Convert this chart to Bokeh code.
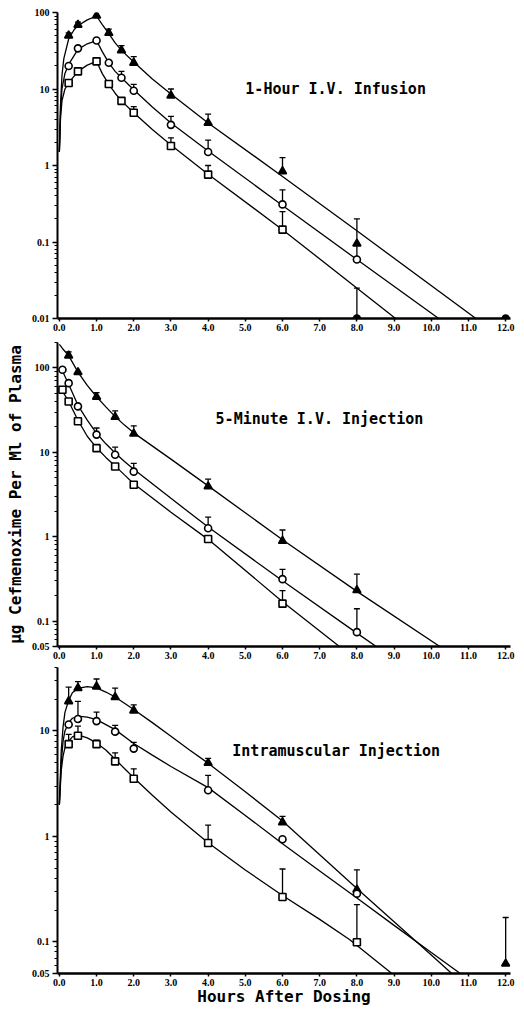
from bokeh.plotting import figure
from bokeh.layouts import column
from bokeh.models import (FixedTicker, CustomJSTickFormatter, Label, Whisker,
                          TeeHead, ColumnDataSource, Range1d)
from bokeh.embed import file_html
from bokeh.resources import INLINE

# ---------------- shared axis data ----------------
x_ticks = [0, 1, 2, 3, 4, 5, 6, 7, 8, 9, 10, 11, 12]
x_label = "Hours After Dosing"
y_label = "\u03bcg Cefmenoxime Per Ml of Plasma"

# ---------------- Panel 1: 1-Hour I.V. Infusion ----------------
inf_title = "1-Hour I.V. Infusion"
inf_yticks = [0.01, 0.1, 1, 10, 100]
inf_t = [0.25, 0.5, 1.0, 1.33, 1.67, 2.0, 3.0, 4.0, 6.0, 8.0]
inf_tri = [50, 69, 91, 54, 32, 22, 8.2, 3.6, 0.84, 0.095]
inf_cir = [20, 34, 43, 22, 14, 9.5, 3.4, 1.5, 0.31, 0.059]
inf_sq_t = [0.25, 0.5, 1.0, 1.33, 1.67, 2.0, 3.0, 4.0, 6.0]
inf_sq = [12, 17, 23, 11.6, 7.0, 4.9, 1.8, 0.76, 0.145]
inf_blq_t = [8.0, 12.0]
inf_blq = [0.01, 0.01]
inf_tri_sd_t = [0.25, 0.5, 1.33, 1.67, 2.0, 3.0, 4.0, 6.0]
inf_tri_sd = [54, 75, 60.5, 37, 26.5, 10, 4.7, 1.27]
inf_cir_sd_t = [1.67, 2.0, 3.0, 4.0, 6.0, 8.0]
inf_cir_sd = [17, 11.5, 4.4, 2.15, 0.48, 0.2]
inf_sq_sd_t = [2.0, 3.0, 4.0, 6.0]
inf_sq_sd = [5.9, 2.3, 1.0, 0.25]
inf_blq_sd_t = [8.0]
inf_blq_sd = [0.025]
inf_tri_fit_t = [0.0, 0.03, 0.07, 0.12, 0.25, 0.4, 0.5, 0.75, 1.0, 1.15, 1.33, 1.5, 1.67, 2.0, 2.5, 3.0, 4.0, 6.0, 8.0, 11.2]
inf_tri_fit = [1.5, 6, 15, 25, 45, 60, 67, 80, 90, 70, 53, 40, 32, 22.5, 13.5, 8.6, 3.6, 0.72, 0.14, 0.01]
inf_cir_fit_t = [0.0, 0.03, 0.07, 0.15, 0.25, 0.5, 0.75, 1.0, 1.15, 1.33, 1.5, 1.67, 2.0, 2.5, 3.0, 4.0, 6.0, 8.0, 10.2]
inf_cir_fit = [1.5, 5, 10, 16, 21, 33, 39, 43, 31, 22, 17, 14, 9.8, 5.8, 3.6, 1.55, 0.3, 0.059, 0.01]
inf_sq_fit_t = [0.0, 0.03, 0.07, 0.15, 0.25, 0.5, 0.75, 1.0, 1.15, 1.33, 1.5, 1.67, 2.0, 2.5, 3.0, 4.0, 6.0, 9.04]
inf_sq_fit = [1.5, 4, 7, 10, 12, 17, 20.5, 23, 16, 11.5, 8.8, 7.0, 4.9, 2.95, 1.85, 0.77, 0.145, 0.01]

# ---------------- Panel 2: 5-Minute I.V. Injection ----------------
inj_title = "5-Minute I.V. Injection"
inj_yticks = [0.05, 0.1, 1, 10, 100]
inj_t = [0.083, 0.25, 0.5, 1.0, 1.5, 2.0, 4.0, 6.0, 8.0]
inj_tri_t = [0.25, 0.5, 1.0, 1.5, 2.0, 4.0, 6.0, 8.0]
inj_tri = [140, 89, 45.3, 26.2, 16.6, 3.94, 0.89, 0.232]
inj_cir = [95, 66, 35, 16.2, 9.35, 5.9, 1.26, 0.314, 0.074]
inj_sq_t = [0.083, 0.25, 0.5, 1.0, 1.5, 2.0, 4.0, 6.0]
inj_sq = [55, 40, 23.3, 11.2, 6.8, 4.13, 0.94, 0.161]
inj_tri_sd_t = [0.25, 1.0, 1.5, 2.0, 4.0, 6.0, 8.0]
inj_tri_sd = [155, 51, 31, 20.6, 4.8, 1.2, 0.36]
inj_cir_sd_t = [1.0, 1.5, 2.0, 4.0, 6.0, 8.0]
inj_cir_sd = [19.4, 11.5, 7.4, 1.71, 0.41, 0.14]
inj_sq_sd_t = [6.0]
inj_sq_sd = [0.23]
inj_tri_fit_t = [0.0, 0.083, 0.25, 0.5, 0.75, 1.0, 1.25, 1.5, 1.75, 2.0, 3.0, 4.0, 6.0, 8.0, 10.23]
inj_tri_fit = [190, 170, 140, 89, 62, 45.5, 34.5, 26.5, 21, 17.0, 8.3, 4.0, 0.92, 0.225, 0.05]
inj_cir_fit_t = [0.0, 0.083, 0.25, 0.5, 0.75, 1.0, 1.25, 1.5, 1.75, 2.0, 3.0, 4.0, 6.0, 8.0, 8.52]
inj_cir_fit = [100, 92, 64, 36, 24, 16.8, 12.6, 9.8, 7.8, 6.3, 2.85, 1.3, 0.3, 0.072, 0.05]
inj_sq_fit_t = [0.0, 0.083, 0.25, 0.5, 0.75, 1.0, 1.25, 1.5, 1.75, 2.0, 3.0, 4.0, 6.0, 7.53]
inj_sq_fit = [60, 53, 40, 24, 15.5, 11.3, 8.7, 6.9, 5.4, 4.25, 1.95, 0.93, 0.17, 0.05]

# ---------------- Panel 3: Intramuscular Injection ----------------
im_title = "Intramuscular Injection"
im_yticks = [0.05, 0.1, 1, 10]
im_tri_t = [0.25, 0.5, 1.0, 1.5, 2.0, 4.0, 6.0, 8.0, 12.0]
im_tri = [19.1, 25.5, 26.4, 20.9, 15.6, 4.97, 1.36, 0.312, 0.062]
im_t = [0.25, 0.5, 1.0, 1.5, 2.0, 4.0, 6.0, 8.0]
im_cir = [11.5, 13.0, 12.4, 9.85, 6.8, 2.74, 0.94, 0.286]
im_sq = [7.5, 9.0, 7.5, 5.15, 3.52, 0.865, 0.266, 0.099]
im_tri_sd_t = [0.25, 0.5, 1.0, 1.5, 2.0, 4.0, 6.0, 8.0, 12.0]
im_tri_sd = [26, 29.4, 31.1, 25.5, 17.7, 5.5, 1.55, 0.48, 0.17]
im_cir_sd_t = [0.5, 1.0, 1.5, 2.0, 4.0]
im_cir_sd = [19.1, 15.1, 11.3, 7.8, 3.79]
im_sq_sd_t = [0.25, 0.5, 1.0, 1.5, 2.0, 4.0, 6.0, 8.0]
im_sq_sd = [9.3, 11.1, 8.2, 6.2, 4.37, 1.28, 0.49, 0.225]
im_tri_fit_t = [0.0, 0.05, 0.1, 0.15, 0.25, 0.35, 0.5, 0.75, 1.0, 1.25, 1.5, 2.0, 2.5, 3.0, 3.5, 4.0, 5.0, 6.0, 7.0, 8.0, 9.0, 10.0, 10.55]
im_tri_fit = [2.0, 6.5, 11, 15, 19.5, 23, 25.3, 26.4, 25.6, 23.4, 21, 16, 12, 8.9, 6.6, 4.95, 2.65, 1.4, 0.67, 0.32, 0.155, 0.075, 0.05]
im_cir_fit_t = [0.0, 0.05, 0.1, 0.15, 0.25, 0.35, 0.5, 0.75, 1.0, 1.5, 2.0, 2.5, 3.0, 4.0, 5.0, 6.0, 7.0, 8.0, 9.0, 10.0, 10.78]
im_cir_fit = [2.0, 5, 8, 10, 12, 13.2, 13.8, 13.5, 12.8, 10.3, 7.6, 5.9, 4.6, 2.9, 1.58, 0.85, 0.47, 0.26, 0.143, 0.079, 0.05]
im_sq_fit_t = [0.0, 0.05, 0.1, 0.15, 0.25, 0.35, 0.5, 0.75, 1.0, 1.25, 1.5, 1.75, 2.0, 2.5, 3.0, 4.0, 5.0, 6.0, 7.0, 7.8, 8.94]
im_sq_fit = [2.0, 4.2, 5.8, 6.9, 8.0, 8.8, 9.2, 8.6, 7.7, 6.6, 5.4, 4.4, 3.6, 2.45, 1.7, 0.87, 0.48, 0.275, 0.163, 0.105, 0.05]

# ---------------- styling ----------------
TICK_FONT = "Liberation Serif"
LABEL_FONT = "DejaVu Sans Mono"
FIG_W = 520


def minor_ticks(lo, hi):
    out = []
    for e in range(-3, 4):
        for m in range(2, 10):
            v = m * 10 ** e
            if lo < v <= hi * 1.0001:
                out.append(v)
    return out


def make_panel(y_lo, y_hi, yticks, height, top, bottom, title, tx, ty,
               xlabel=None, ylabel=None):
    p = figure(width=FIG_W, height=height, y_axis_type="log",
               x_range=Range1d(-0.05, 12.13), y_range=Range1d(y_lo, y_hi),
               output_backend="svg", toolbar_location=None,
               min_border_left=57, min_border_right=FIG_W - 57 - 453,
               min_border_top=top, min_border_bottom=bottom)
    p.outline_line_color = None
    p.xgrid.visible = False
    p.ygrid.visible = False
    p.background_fill_color = "white"
    p.border_fill_color = "white"

    xa = p.xaxis[0]
    xa.ticker = FixedTicker(ticks=x_ticks)
    xa.formatter = CustomJSTickFormatter(code="return tick.toFixed(1);")
    xa.axis_line_width = 2.5
    xa.major_tick_out = 3
    xa.major_tick_in = 0
    xa.minor_tick_out = 0
    xa.major_tick_line_width = 1.5
    xa.major_label_standoff = 2
    xa.major_label_text_font = TICK_FONT
    xa.major_label_text_font_style = "bold"
    xa.major_label_text_font_size = "10px"
    xa.major_label_text_color = "black"
    if xlabel:
        xa.axis_label = xlabel
        xa.axis_label_text_font = LABEL_FONT
        xa.axis_label_text_font_style = "bold"
        xa.axis_label_text_font_size = "16px"
        xa.axis_label_text_color = "black"
        xa.axis_label_standoff = -2

    ya = p.yaxis[0]
    ya.ticker = FixedTicker(ticks=yticks, minor_ticks=minor_ticks(y_lo, y_hi))
    ya.formatter = CustomJSTickFormatter(code="return String(tick);")
    ya.axis_line_width = 2
    ya.major_tick_out = 5
    ya.major_tick_in = 0
    ya.minor_tick_out = 3
    ya.minor_tick_in = 0
    ya.major_tick_line_width = 1.5
    ya.minor_tick_line_width = 1.2
    ya.major_label_standoff = 3
    ya.major_label_text_font = TICK_FONT
    ya.major_label_text_font_style = "bold"
    ya.major_label_text_font_size = "10px"
    ya.major_label_text_color = "black"
    if ylabel:
        ya.axis_label = ylabel
        ya.axis_label_text_font = LABEL_FONT
        ya.axis_label_text_font_style = "bold"
        ya.axis_label_text_font_size = "16px"
        ya.axis_label_text_color = "black"
        ya.axis_label_standoff = 4

    p.add_layout(Label(x=tx, y=ty, text=title, text_font=LABEL_FONT,
                       text_font_size="15px", text_font_style="bold",
                       text_baseline="middle", text_color="black"))
    return p


def add_curve(p, t, v):
    p.line(t, v, line_color="black", line_width=1.3)


def add_points(p, t, v, marker, filled):
    p.scatter(t, v, marker=marker, size=7 if marker != "triangle" else 8,
              fill_color="black" if filled else "white",
              line_color="black", line_width=1.6)


def add_sd(p, t_pts, v_pts, sd_t, sd_v):
    lookup = dict(zip(t_pts, v_pts))
    src = ColumnDataSource(data=dict(x=sd_t, lo=[lookup[t] for t in sd_t], hi=sd_v))
    w = Whisker(base="x", lower="lo", upper="hi", source=src, dimension="height",
                line_color="black", line_width=1.3, lower_head=None,
                upper_head=TeeHead(size=6, line_color="black", line_width=1.3))
    p.add_layout(w)


# ---- Panel 1  (frame 12..318)
p1 = make_panel(0.01, 100, inf_yticks, 342, 12, 24, inf_title, 5.0, 10)
add_curve(p1, inf_tri_fit_t, inf_tri_fit)
add_curve(p1, inf_cir_fit_t, inf_cir_fit)
add_curve(p1, inf_sq_fit_t, inf_sq_fit)
add_sd(p1, inf_t, inf_tri, inf_tri_sd_t, inf_tri_sd)
add_sd(p1, inf_t, inf_cir, inf_cir_sd_t, inf_cir_sd)
add_sd(p1, inf_sq_t, inf_sq, inf_sq_sd_t, inf_sq_sd)
add_sd(p1, inf_blq_t, inf_blq, inf_blq_sd_t, inf_blq_sd)
add_points(p1, inf_t, inf_tri, "triangle", True)
add_points(p1, inf_t, inf_cir, "circle", False)
add_points(p1, inf_sq_t, inf_sq, "square", False)
add_points(p1, inf_blq_t, inf_blq, "circle", True)

# ---- Panel 2  (frame 342..646)
p2 = make_panel(0.05, 200, inj_yticks, 325, 0, 21, inj_title, 4.2, 24.8,
                ylabel=y_label)
add_curve(p2, inj_tri_fit_t, inj_tri_fit)
add_curve(p2, inj_cir_fit_t, inj_cir_fit)
add_curve(p2, inj_sq_fit_t, inj_sq_fit)
add_sd(p2, inj_tri_t, inj_tri, inj_tri_sd_t, inj_tri_sd)
add_sd(p2, inj_t, inj_cir, inj_cir_sd_t, inj_cir_sd)
add_sd(p2, inj_sq_t, inj_sq, inj_sq_sd_t, inj_sq_sd)
add_points(p2, inj_tri_t, inj_tri, "triangle", True)
add_points(p2, inj_t, inj_cir, "circle", False)
add_points(p2, inj_sq_t, inj_sq, "square", False)

# ---- Panel 3  (frame 667..976)
p3 = make_panel(0.05, 40, im_yticks, 341, 0, 32, im_title, 4.65, 6.5,
                xlabel=x_label)
add_curve(p3, im_tri_fit_t, im_tri_fit)
add_curve(p3, im_cir_fit_t, im_cir_fit)
add_curve(p3, im_sq_fit_t, im_sq_fit)
add_sd(p3, im_tri_t, im_tri, im_tri_sd_t, im_tri_sd)
add_sd(p3, im_t, im_cir, im_cir_sd_t, im_cir_sd)
add_sd(p3, im_t, im_sq, im_sq_sd_t, im_sq_sd)
add_points(p3, im_tri_t, im_tri, "triangle", True)
add_points(p3, im_t, im_cir, "circle", False)
add_points(p3, im_t, im_sq, "square", False)

layout = column(p1, p2, p3, spacing=0)
open("out.html", "w").write(file_html(layout, INLINE))
